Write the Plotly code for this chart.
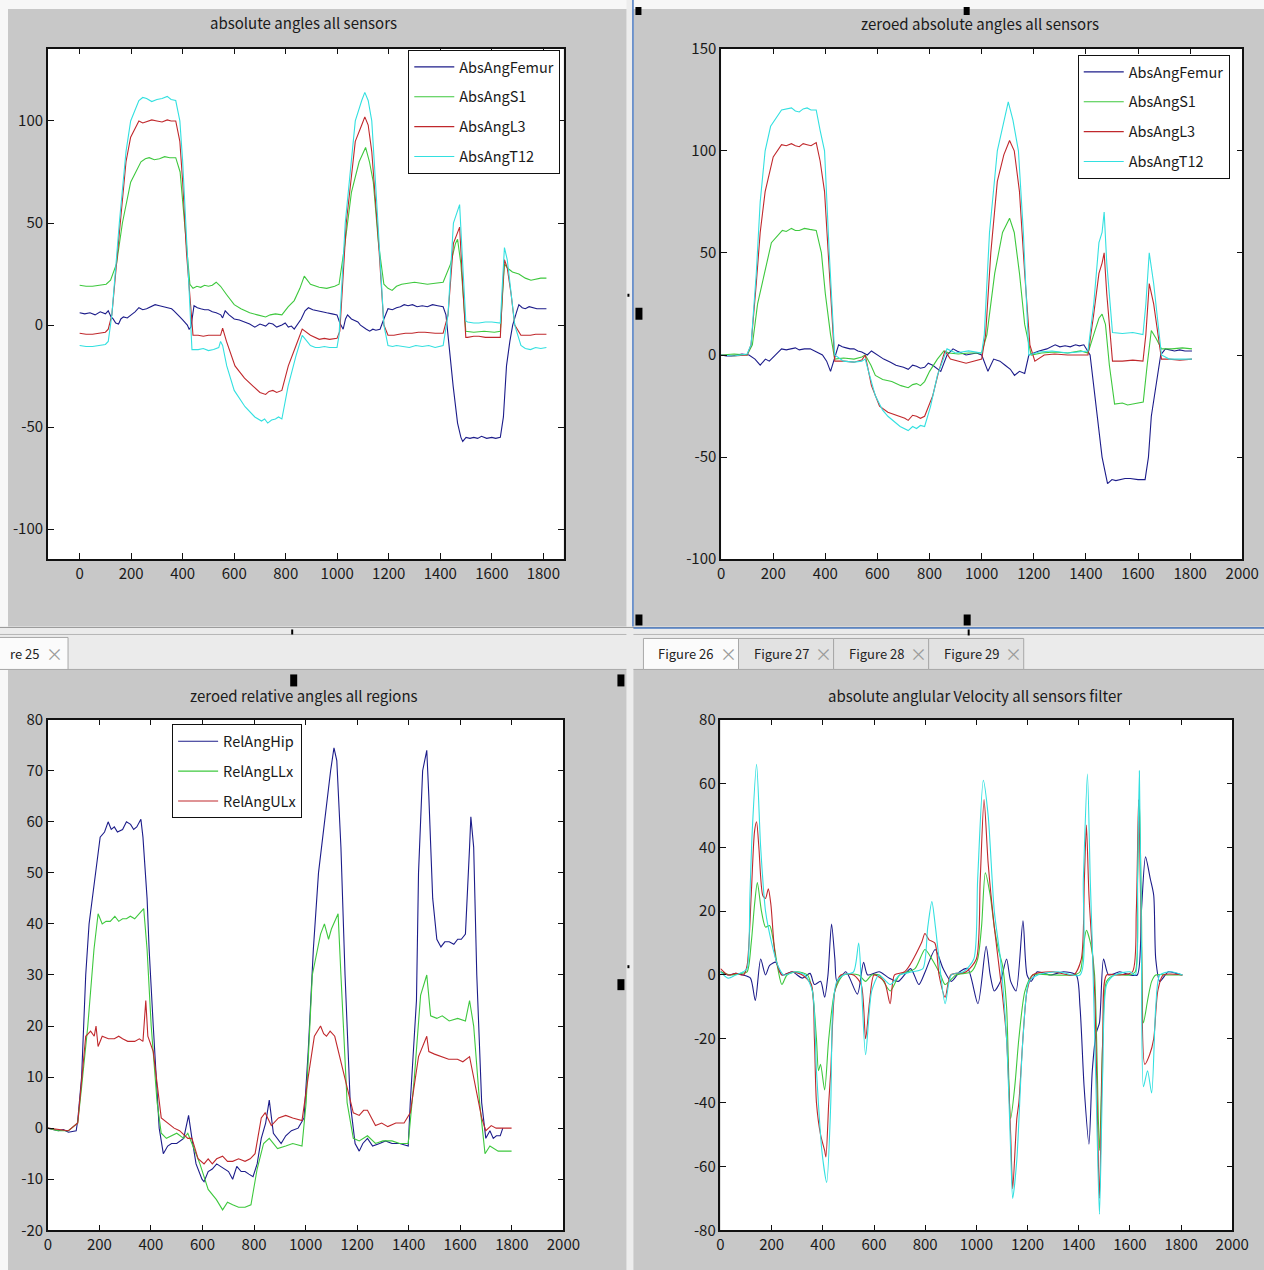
import plotly.graph_objects as go

W, H = 1264, 1270
# the rendered picture shows the figure slightly scaled/offset; positions are given in
# picture pixels and mapped back into figure coordinates
SX, OX = 0.9827, 4.0
SY, OY = 0.9843, 10.0
def fx(p): return ((p - OX) / SX) / W
def fy(p): return 1 - ((p - OY) / SY) / H

FONT = "Noto Sans CJK JP, Liberation Sans, sans-serif"
NAVY = "#1c1c8a"; GREEN = "#3ec83e"; RED = "#c0282c"; CYAN = "#33e0e0"
GREY = "#c8c8c8"

# ---------------- data (x, y) ----------------
# Panel 1: absolute angles all sensors
ABS_FEMUR = [(0,6),(20,5.5),(40,6),(60,5),(80,6.5),(100,5.5),(111,7),(122,4),(130,3),(140,1),(151,0.5),(160,3),(170,4),(185,3.5),(200,5),(215,6.5),(230,8.5),(245,7.5),(260,8),(277,9),(293,10),(310,9.5),(330,9),(345,8.5),(357,8),(366,7),(375,6),(389,4),(400,2.5),(410,1),(418,0),(425,-2),(432,-1),(444,9.5),(457,8.5),(470,8),(485,7.5),(500,7.5),(515,6.5),(530,6),(540,5.5),(548,5),(555,3.5),(565,7),(580,5),(600,3),(620,2.5),(642,1.5),(660,0.5),(680,-1),(700,0.5),(722,-0.5),(735,1),(750,0.5),(765,-1),(785,0),(798,1),(810,-1),(822,-0.5),(833,-2),(845,0),(860,3),(875,7),(888,8.5),(905,7.5),(920,7),(940,6.5),(959,6),(980,5.5),(999,5),(1010,1),(1023,-2),(1032,3),(1040,5),(1055,3),(1068,2),(1080,1.5),(1090,0),(1100,-1),(1113,-2),(1126,-3),(1138,-2),(1150,-2.5),(1166,-2),(1181,3),(1197,8),(1214,7.5),(1230,8.5),(1245,9),(1260,10),(1275,9.5),(1292,10),(1310,9),(1330,9.5),(1350,9),(1370,10),(1390,9.5),(1411,9),(1422,5),(1435,-13),(1450,-30),(1467,-48),(1480,-55),(1487,-57),(1500,-55),(1515,-55.5),(1530,-55),(1545,-55.5),(1560,-54.5),(1580,-55.5),(1600,-55),(1615,-55.5),(1633,-55),(1645,-45),(1657,-20),(1670,-8),(1681,0),(1695,6),(1705,10),(1718,8.5),(1730,8),(1745,9),(1760,8.5),(1775,8),(1790,8),(1812,8)]
ABS_S1 = [(0,19.5),(25,19),(50,19),(75,19.5),(103,20),(120,22),(143,30),(166,50),(198,70),(238,80),(255,81.5),(270,82),(290,81),(310,81.5),(330,82.5),(350,82),(373,82),(390,75),(401,60),(415,40),(428,20),(440,18),(455,19),(470,18.5),(485,19.5),(500,19),(515,19.5),(530,21),(547,19),(570,15),(600,10),(626,8),(660,6),(690,5),(705,4.5),(722,4),(740,5),(760,5.5),(785,5),(810,9),(833,12),(855,18),(872,24),(896,20),(930,18.5),(959,18),(990,19),(1007,20),(1030,40),(1055,65),(1085,80),(1110,87),(1125,80),(1140,70),(1160,40),(1181,20),(1197,18),(1213,17),(1230,19),(1250,20),(1275,20.5),(1300,21),(1325,20.5),(1350,20),(1380,20.5),(1411,21),(1440,30),(1459,40),(1467,42),(1480,30),(1499,-3),(1530,-3.5),(1570,-3),(1610,-3.5),(1633,-3),(1642,15),(1649,30),(1660,28),(1680,26),(1705,25),(1730,23),(1752,22),(1770,22.5),(1790,23),(1812,23)]
ABS_L3 = [(0,-4),(25,-4.5),(50,-4.5),(75,-4),(100,-3.5),(111,-2),(125,5),(154,45),(180,80),(198,92),(230,100),(245,99),(260,99.5),(280,100.5),(300,100),(320,99.5),(340,100.5),(355,100),(373,100),(389,90),(400,70),(415,35),(440,-5),(460,-5),(480,-5.5),(500,-5),(520,-5),(547,-5),(555,-1.5),(570,-8),(603,-20),(640,-26),(674,-30),(700,-33),(722,-34),(735,-32.5),(750,-32),(765,-33),(785,-32),(810,-20),(840,-10),(864,-2),(896,-5),(930,-7),(950,-6.5),(970,-7),(999,-6.5),(1010,-3),(1035,50),(1070,90),(1095,98),(1107,102),(1120,98),(1134,85),(1158,45),(1181,0),(1197,-5),(1220,-5),(1240,-4.5),(1265,-4),(1290,-4),(1315,-3.5),(1340,-3.5),(1380,-4),(1411,-4),(1430,5),(1451,40),(1465,45),(1475,48),(1487,20),(1499,-6),(1506,-6),(1530,-5.5),(1550,-5.5),(1575,-6),(1600,-6),(1633,-6),(1641,15),(1649,32),(1660,28),(1675,15),(1689,0),(1713,-5),(1730,-5),(1750,-5),(1770,-4.5),(1790,-4.5),(1812,-4.5)]
ABS_T12 = [(0,-10),(25,-10.5),(50,-10.5),(75,-10),(100,-9.5),(111,-8),(125,5),(154,50),(180,85),(198,100),(230,110),(245,111.5),(260,111),(280,109.5),(300,110.5),(320,111),(340,112),(355,110.5),(373,110),(389,100),(400,80),(420,30),(436,-12),(460,-12),(480,-11.5),(500,-12.5),(520,-12),(540,-11),(547,-8),(555,-10),(571,-20),(600,-32),(642,-40),(680,-45),(706,-47),(718,-46),(730,-48),(745,-46.5),(760,-46),(772,-45),(785,-46),(809,-30),(840,-15),(864,-5),(896,-10),(915,-11),(930,-11),(950,-10.5),(970,-11),(999,-11),(1007,-5),(1031,50),(1070,100),(1095,110),(1107,114),(1120,110),(1134,100),(1158,50),(1181,0),(1197,-10),(1215,-10.5),(1230,-10),(1255,-10.5),(1280,-11),(1305,-10),(1330,-10.5),(1355,-10),(1380,-11),(1411,-10),(1430,5),(1451,50),(1465,55),(1475,59),(1487,30),(1499,2),(1506,1.5),(1530,1),(1550,1),(1575,1.5),(1600,1.5),(1633,1),(1641,20),(1649,38),(1660,32),(1675,15),(1689,0),(1713,-10),(1730,-11.5),(1750,-12),(1770,-11),(1790,-11.5),(1812,-11)]

# Panel 2: zeroed absolute angles all sensors
Z_FEMUR = [(0,0),(20,-0.5),(40,-0.5),(60,0),(80,0.5),(107,0),(130,-2),(150,-5),(170,-2),(185,-3),(200,-1),(215,1),(232,3),(250,2.5),(270,3),(285,3.5),(300,2.5),(320,3),(342,3),(365,1.5),(389,0),(405,-3),(420,-8),(451,5),(465,4),(480,3.5),(495,3),(510,3),(525,2),(540,1.5),(561,0),(577,2),(600,0),(624,-2),(650,-3.5),(671,-5),(685,-5.5),(700,-6),(718,-7),(735,-5),(750,-5.5),(765,-6.5),(781,-6),(795,-4),(812,-5),(843,-8),(867,0),(890,3),(905,2),(920,1),(940,0),(960,0.5),(980,1),(1000,0),(1024,-8),(1046,-2),(1070,-3),(1090,-5),(1110,-7),(1126,-10),(1145,-8),(1165,-9),(1181,0),(1200,1),(1220,2),(1250,3),(1265,4),(1282,5),(1300,4),(1320,4.5),(1340,4),(1360,5),(1375,4.5),(1392,5),(1416,0),(1440,-25),(1462,-50),(1483,-63),(1500,-61),(1515,-61.5),(1530,-61),(1550,-60.5),(1570,-60.5),(1600,-61),(1627,-61),(1640,-50),(1651,-30),(1670,-15),(1687,0),(1705,3),(1720,2.5),(1740,2),(1760,2.5),(1780,2),(1807,2)]
Z_S1 = [(0,0),(50,0.5),(100,0),(120,5),(140,25),(169,42),(193,55),(235,61),(250,60.5),(270,62),(285,61),(300,61),(320,62),(340,61.5),(365,61),(385,50),(400,30),(420,10),(436,-2),(470,-1.5),(510,-2),(540,-1),(553,0),(575,-5),(592,-10),(620,-12),(655,-13),(690,-15),(718,-16),(735,-14.5),(750,-14),(765,-15),(781,-13),(800,-8),(830,-2),(855,2),(875,1),(910,0.5),(950,1),(1000,1),(1020,10),(1050,40),(1080,60),(1107,67),(1125,60),(1145,40),(1165,15),(1190,0),(1230,1),(1280,1.5),(1330,1),(1380,2),(1408,1),(1430,10),(1450,18),(1462,20),(1475,15),(1490,-5),(1510,-24),(1540,-23.5),(1560,-24.5),(1580,-24),(1600,-23.5),(1620,-23),(1635,-5),(1651,12),(1670,8),(1690,3),(1730,3),(1770,3.5),(1807,3)]
Z_L3 = [(0,0),(50,-0.5),(100,0),(115,5),(135,35),(150,60),(169,80),(200,97),(232,103),(250,102.5),(270,103.5),(285,102.5),(300,102),(315,103.5),(330,103),(345,102.5),(365,104),(380,95),(397,80),(415,40),(436,-3),(470,-3),(510,-3.5),(540,-2.5),(553,0),(577,-15),(608,-25),(640,-28),(687,-30),(705,-31),(718,-32),(735,-29.5),(750,-30),(765,-31),(781,-30),(812,-20),(835,-8),(859,2),(880,-2),(906,-3),(940,-4),(1000,-2),(1015,10),(1035,50),(1060,85),(1085,98),(1107,105),(1125,100),(1145,80),(1165,40),(1185,5),(1204,-3),(1240,0),(1280,0.5),(1330,0),(1380,0),(1408,0),(1430,20),(1450,40),(1462,45),(1470,50),(1480,30),(1502,-3),(1540,-3),(1580,-2.5),(1619,-3),(1630,10),(1643,35),(1660,25),(1690,-2),(1720,-2),(1760,-2.5),(1807,-2)]
Z_T12 = [(0,0),(50,-0.5),(100,0.5),(115,5),(135,40),(150,75),(169,100),(190,112),(232,120),(250,120.5),(270,121),(285,119.5),(300,119),(315,120.5),(330,121),(345,120),(365,120),(380,110),(397,100),(415,50),(436,0),(470,-3),(510,-3.5),(540,-3),(553,-2),(570,-10),(592,-20),(620,-27),(640,-30),(687,-35),(718,-37),(735,-35),(750,-36),(765,-34.5),(781,-35),(804,-25),(830,-10),(867,3),(900,1),(950,2),(1000,1),(1010,10),(1030,60),(1060,100),(1085,115),(1102,124),(1120,115),(1141,100),(1160,60),(1181,0),(1220,1.5),(1270,2),(1330,1),(1380,1.5),(1408,2),(1430,25),(1450,55),(1462,60),(1470,70),(1480,45),(1502,11),(1540,10.5),(1580,11),(1619,10),(1630,25),(1643,50),(1660,35),(1690,0),(1720,-2),(1760,-2),(1807,-2)]

# Panel 3: zeroed relative angles all regions
REL_HIP = [(0,0),(20,-0.3),(40,-0.5),(60,-0.3),(80,-0.8),(110,-0.5),(116,1.5),(131,10),(147,30),(160,40),(187,50),(203,57),(220,58),(234,60),(246,58.5),(258,59),(270,58),(290,58.5),(305,60),(321,59.5),(333,58.5),(345,59),(361,60.5),(369,57),(385,45),(393,35),(409,20),(432,0),(448,-5),(465,-3.5),(480,-3),(500,-3),(527,-2),(546,2.5),(559,-2),(575,-7),(598,-10),(606,-10.5),(622,-8.5),(638,-8),(655,-7),(670,-7.5),(685,-8),(701,-8.5),(717,-10),(733,-7.5),(750,-8.5),(765,-8.5),(780,-9),(796,-9.5),(812,-7),(828,-2),(845,1),(859,5.5),(875,-1),(891,-2),(905,-3),(923,-1.5),(945,-0.5),(971,0),(994,2),(1010,15),(1030,35),(1050,50),(1073,60),(1097,70),(1110,74.5),(1121,72),(1137,55),(1153,30),(1173,5),(1192,-3),(1208,-4.5),(1222,-3),(1240,-2),(1260,-3.5),(1287,-3),(1310,-2.5),(1335,-3),(1365,-3),(1398,-3.5),(1406,5),(1430,25),(1438,50),(1454,70),(1470,74),(1478,65),(1493,45),(1509,37),(1525,35.5),(1540,36.5),(1557,36.5),(1575,36),(1590,37),(1604,37),(1620,38),(1636,55),(1641,61),(1652,55),(1664,30),(1683,5),(1699,-2),(1715,-0.5),(1728,-2),(1740,-1.5),(1755,-1.5),(1765,0)]
REL_LLX = [(0,0),(40,-0.5),(80,-0.5),(116,1),(131,8),(155,20),(179,35),(195,42),(211,40),(226,40.5),(242,40.5),(260,41.5),(275,40.5),(290,41),(305,41),(320,41.5),(337,41),(353,42),(372,43),(385,35),(401,20),(424,5),(440,-1),(460,-2),(480,-1.5),(500,-1),(527,-2),(543,-1),(559,-3),(590,-7),(622,-12),(654,-14),(678,-16),(697,-14.5),(717,-15),(740,-15.5),(765,-15.5),(788,-15),(812,-8),(837,-3),(859,-2),(891,-4),(923,-3.5),(950,-3),(986,-3.5),(1002,5),(1026,30),(1058,38),(1073,40),(1089,37),(1100,39),(1126,42),(1137,30),(1161,5),(1185,-2),(1208,-2.5),(1240,-1.5),(1271,-3),(1300,-2.5),(1335,-2.5),(1365,-3),(1398,-3),(1422,10),(1446,26),(1470,30),(1485,22),(1509,21.5),(1530,22),(1557,21),(1590,21.5),(1620,21),(1636,25),(1652,20),(1675,5),(1696,-5),(1715,-3.5),(1747,-4.5),(1775,-4.5),(1799,-4.5)]
REL_ULX = [(0,0),(40,-0.3),(80,-0.5),(116,1),(131,10),(147,18),(166,19),(180,18),(187,20),(195,16),(211,18),(235,17.5),(258,17.5),(275,18),(290,17.5),(310,17),(337,17),(355,17.5),(369,17),(380,25),(388,18),(409,15),(440,2),(464,1),(490,0),(511,-0.5),(543,-2),(559,-2),(583,-6),(606,-7),(622,-6),(638,-7),(655,-6),(678,-5.5),(697,-6.5),(717,-6.5),(740,-6),(765,-6.5),(785,-6),(804,-5),(828,2),(843,3),(867,0.5),(895,2),(923,2.5),(950,2),(986,1.5),(1010,10),(1034,18),(1058,20),(1070,18.5),(1081,18),(1095,19),(1113,18),(1137,13),(1169,6),(1185,3),(1208,2.5),(1225,3.5),(1240,3.5),(1271,0.5),(1295,1),(1319,0.3),(1350,1),(1382,1),(1406,3),(1438,14),(1470,18),(1478,15),(1500,14.5),(1525,14),(1555,13.5),(1589,13.5),(1610,13),(1636,14),(1659,8),(1683,2),(1699,-0.5),(1720,0.5),(1739,0),(1770,0),(1799,0)]

# Panel 4: absolute angular velocity all sensors filter
VEL_FEMUR = [(0,1),(30,0),(60,0.5),(88,0),(117,-1),(136,-8),(157,5),(176,0),(192,3),(216,4),(240,0),(280,1),(320,-1),(350,0.5),(367,-3),(391,-2),(407,-7),(420,0),(434,16),(447,5),(455,-2),(490,1),(535,-6),(559,4),(575,0),(620,1),(660,-1),(695,-2),(743,2),(775,-3),(800,1),(839,8),(870,2),(902,-2),(935,1),(966,2),(1006,-9),(1038,9),(1054,0),(1070,-5),(1094,-2),(1118,5),(1134,-2),(1155,-5),(1182,17),(1198,0),(1214,-2),(1238,1),(1290,0),(1340,1),(1390,0),(1405,-10),(1421,-35),(1440,-53),(1453,-30),(1469,-18),(1481,-15),(1497,5),(1517,0),(1560,1),(1600,0),(1629,0),(1645,20),(1661,37),(1680,30),(1693,25),(1701,5),(1717,-2),(1750,1),(1780,0.5),(1805,0)]
VEL_S1 = [(0,1),(40,0),(80,0.5),(104,1),(120,10),(133,22),(144,29),(160,20),(176,15),(192,15.5),(208,10),(224,2),(240,-3),(260,0),(300,1),(340,0),(359,-5),(375,-20),(383,-30),(391,-28),(407,-36),(423,-20),(447,-5),(480,0),(540,0),(567,-2),(591,0),(620,0),(663,-5),(700,0),(760,2),(799,8),(826,5),(860,0),(878,-3),(920,0),(980,1),(1005,5),(1020,15),(1035,32),(1054,25),(1070,15),(1086,8),(1102,3),(1118,-10),(1134,-45),(1150,-35),(1166,-20),(1190,-5),(1220,0),(1300,0),(1380,0),(1405,1),(1420,10),(1430,14),(1446,10),(1462,0),(1481,-55),(1494,-20),(1509,-2),(1540,0),(1600,0),(1621,1),(1630,30),(1637,55),(1645,20),(1653,-15),(1669,-8),(1685,-2),(1701,0),(1750,0),(1805,0)]
VEL_L3 = [(0,2),(30,0),(60,0.5),(90,0),(104,3),(120,25),(133,45),(141,48),(150,40),(165,25),(176,24),(187,27),(197,22),(216,5),(240,0),(280,1),(320,0),(355,-3),(367,-20),(375,-40),(391,-50),(407,-55),(412,-57),(423,-40),(431,-30),(447,-5),(470,0),(520,0),(550,-3),(567,-20),(583,-8),(600,0),(640,-2),(663,-9),(680,0),(720,1),(785,10),(799,13),(815,11),(838,10),(854,0),(878,-7),(900,0),(960,1),(1000,5),(1015,30),(1030,55),(1046,35),(1070,15),(1100,-5),(1118,-20),(1134,-50),(1142,-67),(1158,-45),(1166,-40),(1198,-5),(1220,0),(1300,1),(1380,0),(1410,5),(1422,30),(1430,47),(1440,25),(1462,-5),(1472,-40),(1481,-70),(1494,-20),(1509,0),(1560,0),(1610,1),(1625,20),(1634,55),(1645,10),(1658,-28),(1677,-25),(1693,-20),(1709,-5),(1730,0),(1805,0)]
VEL_T12 = [(0,1),(30,-1),(60,0),(90,1),(104,2),(115,25),(124,45),(141,66),(157,40),(176,20),(200,10),(224,3),(248,0),(290,1),(330,0),(359,-5),(375,-30),(396,-55),(415,-65),(431,-40),(439,-10),(455,-2),(480,0),(520,1),(540,10),(550,-2),(567,-25),(591,-5),(620,0),(663,-3),(700,0),(750,1),(791,2),(810,15),(826,23),(840,15),(854,5),(878,-9),(902,0),(950,1),(990,5),(1005,30),(1027,61),(1046,50),(1070,20),(1094,5),(1118,-20),(1134,-55),(1142,-70),(1158,-58),(1182,-20),(1206,-2),(1240,0),(1320,1),(1405,0),(1418,30),(1434,63),(1445,30),(1453,10),(1469,-40),(1481,-75),(1494,-30),(1509,-3),(1540,0),(1600,1),(1621,0),(1630,30),(1637,64),(1645,10),(1653,-35),(1669,-30),(1685,-37),(1701,-10),(1717,0),(1760,1),(1805,0)]

TITLES = ["absolute angles all sensors", "zeroed absolute angles all sensors",
          "zeroed relative angles all regions", "absolute anglular Velocity all sensors filter"]
X_TICKS_1 = [0, 200, 400, 600, 800, 1000, 1200, 1400, 1600, 1800]
X_TICKS = [0, 200, 400, 600, 800, 1000, 1200, 1400, 1600, 1800, 2000]
Y_TICKS_1 = [-100, -50, 0, 50, 100]
Y_TICKS_2 = [-100, -50, 0, 50, 100, 150]
Y_TICKS_3 = [-20, -10, 0, 10, 20, 30, 40, 50, 60, 70, 80]
Y_TICKS_4 = [-80, -60, -40, -20, 0, 20, 40, 60, 80]
TAB_LABELS = ["Figure 26", "Figure 27", "Figure 28", "Figure 29"]

fig = go.Figure()

def add(series, name, color, n, legend, shape="linear"):
    fig.add_trace(go.Scatter(
        x=[p[0] for p in series], y=[p[1] for p in series], mode="lines", name=name,
        line=dict(color=color, width=1.1, shape=shape, smoothing=0.7 if shape == "spline" else None),
        xaxis="x" + ("" if n == 1 else str(n)),
        yaxis="y" + ("" if n == 1 else str(n)), legend=legend, showlegend=legend is not None,
        legendgroup=name + str(n)))

for n, lg, (f, s, l, t) in [(1, "legend", (ABS_FEMUR, ABS_S1, ABS_L3, ABS_T12)),
                            (2, "legend2", (Z_FEMUR, Z_S1, Z_L3, Z_T12))]:
    add(f, "AbsAngFemur", NAVY, n, lg)
    add(s, "AbsAngS1", GREEN, n, lg)
    add(l, "AbsAngL3", RED, n, lg)
    add(t, "AbsAngT12", CYAN, n, lg)
add(REL_HIP, "RelAngHip", NAVY, 3, "legend3")
add(REL_LLX, "RelAngLLx", GREEN, 3, "legend3")
add(REL_ULX, "RelAngULx", RED, 3, "legend3")
add(VEL_FEMUR, "AbsAngFemur", NAVY, 4, None, "spline")
add(VEL_S1, "AbsAngS1", GREEN, 4, None, "spline")
add(VEL_L3, "AbsAngL3", RED, 4, None, "spline")
add(VEL_T12, "AbsAngT12", CYAN, 4, None, "spline")

panels = [
    dict(dx=(47.8, 563.3), dy=(46.7, 557.7), xr=[-123.5, 1879], yr=[-114.7, 135.4], xt=X_TICKS_1, yt=Y_TICKS_1),
    dict(dx=(720.6, 1241.4), dy=(46.7, 557.7), xr=[0, 2000], yr=[-100, 150], xt=X_TICKS, yt=Y_TICKS_2),
    dict(dx=(47.8, 563.0), dy=(718.3, 1229.3), xr=[0, 2000], yr=[-20, 80], xt=X_TICKS, yt=Y_TICKS_3),
    dict(dx=(720.0, 1231.4), dy=(718.3, 1229.3), xr=[0, 2000], yr=[-80, 80], xt=X_TICKS, yt=Y_TICKS_4),
]
tickfont = dict(family=FONT, size=15, color="#1a1a1a")
layout = {}
for i, p in enumerate(panels, start=1):
    sfx = "" if i == 1 else str(i)
    common = dict(showline=True, linecolor="#111", linewidth=1.5, mirror="allticks", ticks="inside",
                  ticklen=6, tickcolor="#111", showgrid=False, zeroline=False, tickfont=tickfont,
                  fixedrange=True)
    layout["xaxis" + sfx] = dict(domain=[fx(p["dx"][0]), fx(p["dx"][1])], range=p["xr"], tickvals=p["xt"],
                                 ticktext=[str(v) for v in p["xt"]], anchor="y" + sfx, **common)
    layout["yaxis" + sfx] = dict(domain=[fy(p["dy"][1]), fy(p["dy"][0])], range=p["yr"], tickvals=p["yt"],
                                 ticktext=[str(v) for v in p["yt"]], anchor="x" + sfx, **common)

legend_style = dict(bgcolor="white", bordercolor="#111", borderwidth=1,
                    font=dict(family=FONT, size=14.5, color="#1a1a1a"),
                    xanchor="left", yanchor="top", tracegroupgap=8, itemwidth=40)
layout["legend"] = dict(x=fx(408), y=fy(48), **legend_style)
layout["legend2"] = dict(x=fx(1077), y=fy(53), **legend_style)
layout["legend3"] = dict(x=fx(172), y=fy(723), **legend_style)

ann = []
for (cx, cy), t in zip([(303.5, 21), (979, 22), (303.5, 694), (974, 694)], TITLES):
    ann.append(dict(x=fx(cx), y=fy(cy), xref="paper", yref="paper", text=t, showarrow=False,
                    font=dict(family=FONT, size=15, color="#1a1a1a"), xanchor="center", yanchor="middle"))

shapes = []
def rect(x0, y0, x1, y1, fill, line=None, lw=0):
    shapes.append(dict(type="rect", xref="paper", yref="paper", x0=fx(x0), x1=fx(x1), y0=fy(y1), y1=fy(y0),
                       fillcolor=fill, line=dict(color=line or fill, width=lw), layer="below"))
def hline(x0, x1, y, color, w=1):
    shapes.append(dict(type="line", xref="paper", yref="paper", x0=fx(x0), x1=fx(x1), y0=fy(y), y1=fy(y),
                       line=dict(color=color, width=w), layer="below"))
def vline(x, y0, y1, color, w=1):
    shapes.append(dict(type="line", xref="paper", yref="paper", x0=fx(x), x1=fx(x), y0=fy(y0), y1=fy(y1),
                       line=dict(color=color, width=w), layer="below"))

rect(-20, -20, W + 20, 7, "#f7f7f7")
rect(-20, -20, 8, H + 20, "#f7f7f7")
rect(626, -20, 633, H + 20, "#ededed")
vline(632.5, -20, 626, "#4d7cc4", 1.5)
rect(-20, 625, W + 20, 668, "#ebebeb")
hline(-20, W + 20, 626, "#9a9a9a", 1)
hline(633, W + 20, 626.5, "#4d7cc4", 1.5)
hline(-20, 626, 633, "#b5b5b5", 1)
hline(633, W + 20, 633, "#b5b5b5", 1)
hline(-20, 626, 668, "#a8a8a8", 1)
hline(633, W + 20, 668, "#a8a8a8", 1)
# tabs
rect(-20, 636, 68, 668, "#fbfbfb", "#a8a8a8", 1)
ann.append(dict(x=fx(8), y=fy(652), xref="paper", yref="paper", text="re 25", showarrow=False,
                xanchor="left", yanchor="middle", font=dict(family=FONT, size=13, color="#222")))
ann.append(dict(x=fx(54), y=fy(652), xref="paper", yref="paper", text="×", showarrow=False,
                xanchor="center", yanchor="middle", font=dict(family=FONT, size=17, color="#9a9a9a")))
for k, lab in enumerate(TAB_LABELS):
    x0 = 643 + 95 * k
    rect(x0, 637, x0 + 95, 668, "#fbfbfb" if k == 0 else "#e2e2e2", "#a8a8a8", 1)
    ann.append(dict(x=fx(x0 + 13), y=fy(652), xref="paper", yref="paper", text=lab, showarrow=False,
                    xanchor="left", yanchor="middle", font=dict(family=FONT, size=13, color="#222")))
    ann.append(dict(x=fx(x0 + 85), y=fy(652), xref="paper", yref="paper", text="×", showarrow=False,
                    xanchor="center", yanchor="middle", font=dict(family=FONT, size=17, color="#9a9a9a")))
# selection handles
for (a, b, c, d) in [(635, 5, 641, 13), (963, 5, 969, 13), (635, 306, 642, 318), (635, 613, 642, 624),
                     (963, 613, 970, 624), (290, 673, 297, 685), (617, 673, 624, 685), (617, 978, 624, 989),
                     (291, 628, 293, 633), (967, 628, 969, 634), (627, 292, 629, 295), (627, 964, 629, 967)]:
    rect(a, b, c, d, "#000000")

fig.update_layout(width=W, height=H, margin=dict(l=0, r=0, t=0, b=0), paper_bgcolor=GREY,
                  plot_bgcolor="white", annotations=ann, shapes=shapes, **layout)
fig.write_html("out.html")
